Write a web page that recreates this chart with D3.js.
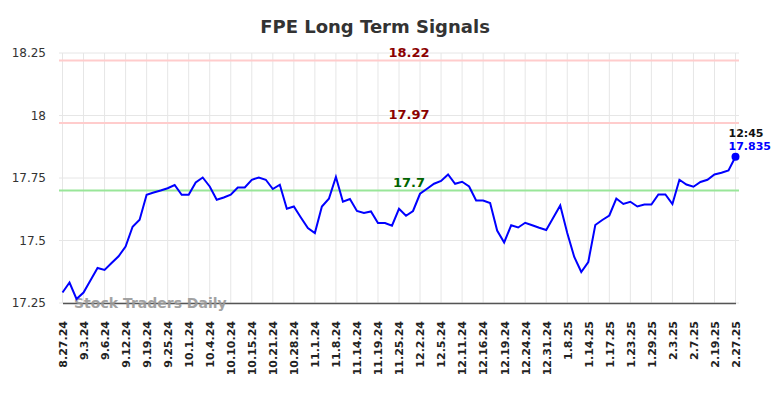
<!DOCTYPE html>
<html lang="en">
<head>
  <meta charset="UTF-8">
  <title>FPE Long Term Signals</title>
  <style>
    body { margin: 0; background: #fff; }
    svg { display: block; font-family: "DejaVu Sans", sans-serif; }
  </style>
</head>
<body>
  <div id="chart"></div>

  <script src="https://d3js.org/d3.v7.min.js"></script>
  <script>
    // Tick labels (one every 3 points)
    const tickLabels = ["8.27.24", "9.3.24", "9.6.24", "9.12.24", "9.19.24", "9.25.24", "10.1.24", "10.4.24",
      "10.10.24", "10.15.24", "10.21.24", "10.28.24", "11.1.24", "11.8.24", "11.14.24", "11.19.24",
      "11.25.24", "12.2.24", "12.5.24", "12.11.24", "12.16.24", "12.19.24", "12.24.24", "12.31.24",
      "1.8.25", "1.14.25", "1.17.25", "1.23.25", "1.29.25", "2.3.25", "2.7.25", "2.19.25", "2.27.25"];

    // Price series
    const prices = [17.292, 17.332, 17.266, 17.292, 17.341, 17.390, 17.382, 17.410, 17.437, 17.476,
      17.555, 17.583, 17.683, 17.692, 17.700, 17.709, 17.722, 17.683, 17.683, 17.732,
      17.752, 17.716, 17.663, 17.672, 17.683, 17.712, 17.712, 17.743, 17.752, 17.743,
      17.706, 17.723, 17.627, 17.636, 17.592, 17.550, 17.530, 17.636, 17.667, 17.754,
      17.655, 17.666, 17.618, 17.610, 17.616, 17.570, 17.570, 17.559, 17.627, 17.599,
      17.618, 17.687, 17.707, 17.727, 17.738, 17.764, 17.727, 17.735, 17.716, 17.660,
      17.660, 17.650, 17.540, 17.492, 17.561, 17.552, 17.571, 17.561, 17.551, 17.542,
      17.591, 17.640, 17.530, 17.434, 17.374, 17.414, 17.562, 17.582, 17.600, 17.668,
      17.646, 17.655, 17.636, 17.644, 17.644, 17.684, 17.684, 17.646, 17.743, 17.724,
      17.715, 17.734, 17.743, 17.764, 17.771, 17.780, 17.835];

    const yTicks = [17.25, 17.5, 17.75, 18, 18.25];

    // Signal levels
    const levels = [18.22, 17.97, 17.7];
    const levelColors = ["#ffcccc", "#ffcccc", "#99e699"];
    const levelText = ["#8b0000", "#8b0000", "#006400"];

    const lastTime = "12:45";

    const width = 784, height = 398;
    const margin = {top: 53, right: 45, bottom: 95, left: 59};
    const innerW = width - margin.left - margin.right;
    const innerH = height - margin.top - margin.bottom;

    const svg = d3.select("#chart").append("svg")
      .attr("width", width)
      .attr("height", height);

    // Title
    svg.append("text")
      .attr("x", 375)
      .attr("y", 33)
      .attr("text-anchor", "middle")
      .style("font-size", "18px")
      .style("font-weight", "bold")
      .style("fill", "#333")
      .text("FPE Long Term Signals");

    const g = svg.append("g")
      .attr("transform", `translate(${margin.left},${margin.top})`);

    const x = d3.scaleLinear()
      .domain([0, prices.length - 1])
      .range([3.5, innerW - 3.5]);

    const y = d3.scaleLinear()
      .domain([17.25, 18.25])
      .range([innerH, 0]);

    const tickIdx = tickLabels.map((d, i) => i * 3);

    // Grid
    g.append("g")
      .selectAll("line")
      .data(tickIdx)
      .enter()
      .append("line")
      .attr("x1", d => x(d))
      .attr("x2", d => x(d))
      .attr("y1", 0)
      .attr("y2", innerH)
      .style("stroke", "#e6e6e6")
      .style("stroke-width", 1);

    g.append("g")
      .selectAll("line")
      .data(yTicks)
      .enter()
      .append("line")
      .attr("x1", 0)
      .attr("x2", innerW)
      .attr("y1", d => y(d))
      .attr("y2", d => y(d))
      .style("stroke", "#e6e6e6")
      .style("stroke-width", 1);

    // Y axis labels
    const yAxis = g.append("g")
      .call(d3.axisLeft(y).tickValues(yTicks).tickSize(0).tickPadding(13).tickFormat(d3.format("")));
    yAxis.select(".domain").remove();
    yAxis.selectAll("text")
      .style("font-size", "12px")
      .style("font-family", "DejaVu Sans, sans-serif")
      .style("fill", "#333");

    // X axis
    const xAxis = g.append("g")
      .attr("transform", `translate(0,${innerH})`)
      .call(d3.axisBottom(x).tickValues(tickIdx).tickSize(0).tickFormat((d, i) => tickLabels[i]));
    xAxis.select(".domain")
      .style("stroke", "#555")
      .style("stroke-width", 1.5);
    xAxis.selectAll("text")
      .attr("transform", "rotate(-90)")
      .attr("text-anchor", "end")
      .attr("x", -18)
      .attr("y", 0)
      .attr("dy", "0.35em")
      .style("font-size", "11px")
      .style("font-weight", "bold")
      .style("font-family", "DejaVu Sans, sans-serif")
      .style("fill", "#222");

    // Watermark
    g.append("text")
      .attr("x", 15)
      .attr("y", innerH + 5)
      .style("font-size", "14px")
      .style("font-weight", "bold")
      .style("fill", "#999")
      .style("opacity", 0.9)
      .text("Stock Traders Daily");

    // Signal lines
    g.append("g")
      .selectAll("line")
      .data(levels)
      .enter()
      .append("line")
      .attr("x1", 0)
      .attr("x2", innerW)
      .attr("y1", d => y(d))
      .attr("y2", d => y(d))
      .style("stroke", (d, i) => levelColors[i])
      .style("stroke-width", 2);

    g.append("g")
      .selectAll("text")
      .data(levels)
      .enter()
      .append("text")
      .attr("x", 350)
      .attr("y", d => y(d) - 4)
      .attr("text-anchor", "middle")
      .style("font-size", "13px")
      .style("font-weight", "bold")
      .style("fill", (d, i) => levelText[i])
      .text(d => d);

    // Price line
    const line = d3.line()
      .x((d, i) => x(i))
      .y(d => y(d));

    g.append("path")
      .datum(prices)
      .attr("d", line)
      .style("fill", "none")
      .style("stroke", "#0000ff")
      .style("stroke-width", 2);

    // Last point
    const lastI = prices.length - 1;
    g.append("circle")
      .attr("cx", x(lastI))
      .attr("cy", y(prices[lastI]))
      .attr("r", 4)
      .style("fill", "#0000ff");

    g.append("text")
      .attr("x", x(lastI) - 7)
      .attr("y", y(prices[lastI]) - 20)
      .style("font-size", "11px")
      .style("font-weight", "bold")
      .style("fill", "#111")
      .text(lastTime);

    g.append("text")
      .attr("x", x(lastI) - 7)
      .attr("y", y(prices[lastI]) - 7)
      .style("font-size", "11px")
      .style("font-weight", "bold")
      .style("fill", "#0000ff")
      .text(prices[lastI]);
  </script>
</body>
</html>
